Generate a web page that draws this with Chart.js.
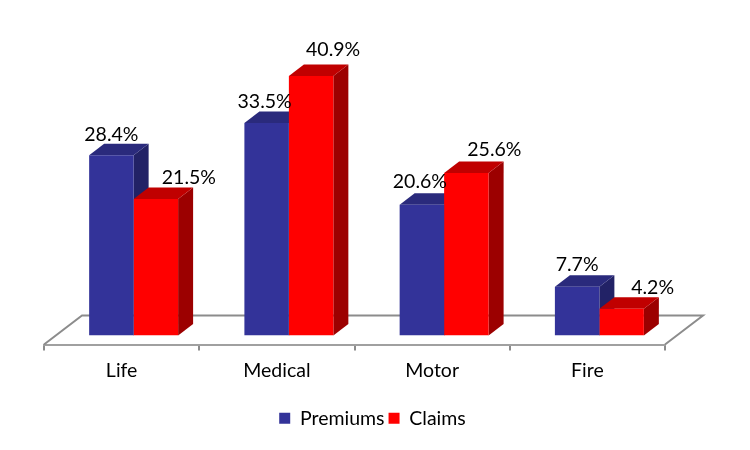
<!DOCTYPE html>
<html>
<head>
<meta charset="utf-8">
<title>Premiums and claims</title>
<script src="https://cdn.jsdelivr.net/npm/chart.js@4"></script>
<style>
    html, body { margin: 0; padding: 0; background: #fff; }
    canvas { display: block; }
</style>
</head>
<body>
<canvas id="myChart" width="750" height="450"></canvas>
<script>
// Chart values
const categories = ['Life', 'Medical', 'Motor', 'Fire'];
const premiums = [28.4, 33.5, 20.6, 7.7];
const claims = [21.5, 40.9, 25.6, 4.2];

// Hand placed value labels in the original, pixels away from the top centre of each bar
const premiumLabelNudge = [[0, -21], [-2, -21], [-2, -23], [0, -22]];
const claimLabelNudge = [[33, -21], [22, -26], [28, -23], [31, -21]];

// Fake 3D: bars stand a little way back on the floor
const floorDepth = { x: 38, y: 29 };
const barInset = { x: 12, y: 9 };
const barDepth = { x: 15, y: 11.5 };

const shades = [
    { front: '#333399', top: '#2a2a7c', side: '#222266' },
    { front: '#ff0000', top: '#c00000', side: '#9c0000' },
];
const labelFont = '19.5px Lato';

const fake3d = {
    id: 'fake3d',
    afterLayout(chart) {
        // the legend sits off-centre in the original
        chart.legend.left += 18;
        chart.legend.right += 18;
    },
    beforeDatasetsDraw(chart) {
        const ctx = chart.ctx;
        const { left, right, bottom } = chart.chartArea;

        // floor
        ctx.save();
        ctx.beginPath();
        ctx.moveTo(left, bottom);
        ctx.lineTo(left + floorDepth.x, bottom - floorDepth.y);
        ctx.lineTo(right + floorDepth.x, bottom - floorDepth.y);
        ctx.lineTo(right, bottom);
        ctx.strokeStyle = '#8c8c8c';
        ctx.lineWidth = 2;
        ctx.stroke();
        ctx.restore();

        // everything the bars draw gets moved back onto the floor
        ctx.save();
        ctx.translate(barInset.x, -barInset.y);

        // sides and tops go first, the fronts then cover them
        chart.data.datasets.forEach((ds, i) => {
            chart.getDatasetMeta(i).data.forEach((bar) => {
                const l = bar.x - bar.width / 2;
                const r = bar.x + bar.width / 2;
                const t = bar.y;
                const b = bar.base;

                ctx.fillStyle = shades[i].side;
                ctx.beginPath();
                ctx.moveTo(r, t);
                ctx.lineTo(r + barDepth.x, t - barDepth.y);
                ctx.lineTo(r + barDepth.x, b - barDepth.y);
                ctx.lineTo(r, b);
                ctx.closePath();
                ctx.fill();

                ctx.fillStyle = shades[i].top;
                ctx.beginPath();
                ctx.moveTo(l, t);
                ctx.lineTo(l + barDepth.x, t - barDepth.y);
                ctx.lineTo(r + barDepth.x, t - barDepth.y);
                ctx.lineTo(r, t);
                ctx.closePath();
                ctx.fill();
            });
        });
    },
    afterDatasetsDraw(chart) {
        const ctx = chart.ctx;
        ctx.fillStyle = '#000';
        ctx.font = labelFont;
        ctx.textAlign = 'center';
        ctx.textBaseline = 'middle';

        chart.data.datasets.forEach((ds, i) => {
            const nudge = i === 0 ? premiumLabelNudge : claimLabelNudge;
            chart.getDatasetMeta(i).data.forEach((bar, j) => {
                ctx.fillText(ds.data[j].toFixed(1) + '%', bar.x + nudge[j][0], bar.y + nudge[j][1]);
            });
        });
        ctx.restore();
    },
};

new Chart(document.getElementById('myChart'), {
    type: 'bar',
    data: {
        labels: categories,
        datasets: [
            { label: 'Premiums', data: premiums, backgroundColor: shades[0].front, borderWidth: 0 },
            { label: 'Claims', data: claims, backgroundColor: shades[1].front, borderWidth: 0 },
        ],
    },
    options: {
        responsive: false,
        animation: false,
        categoryPercentage: 0.573,
        barPercentage: 1,
        layout: { padding: { left: 44, right: 85, top: 59, bottom: 12 } },
        plugins: {
            tooltip: { enabled: false },
            legend: {
                position: 'bottom',
                labels: {
                    boxWidth: 11,
                    boxHeight: 11,
                    padding: 4,
                    color: '#000',
                    font: { family: 'Lato', size: 19.5 },
                },
            },
        },
        scales: {
            x: {
                grid: { drawOnChartArea: false, drawTicks: true, tickLength: 6, color: '#8c8c8c', lineWidth: 2 },
                border: { color: '#a0a0a0', width: 2 },
                ticks: { color: '#000', padding: 9, maxRotation: 0, font: { family: 'Lato', size: 19.5 } },
                afterFit(scale) { scale.height = 60; },
            },
            y: { display: false, min: 0, max: 45 },
        },
    },
    plugins: [fake3d],
});
</script>
</body>
</html>
